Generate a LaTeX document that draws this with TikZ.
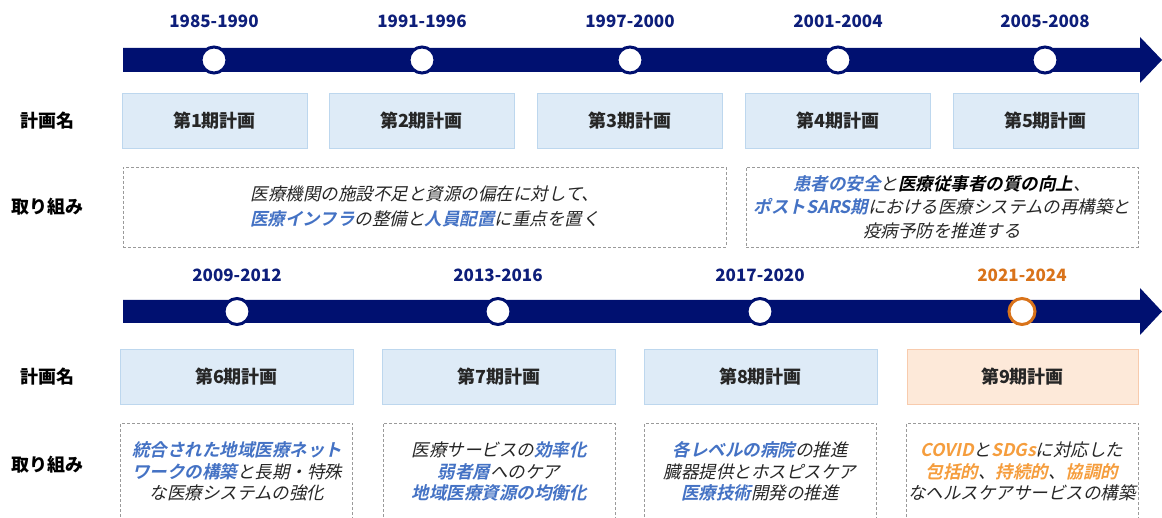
\documentclass[tikz,border=0pt]{standalone}
\usepackage{fontspec}
\setmainfont{Noto Sans CJK JP}[AutoFakeSlant=0.22, BoldItalicFont={Noto Sans CJK JP Bold}, BoldItalicFeatures={FakeSlant=0.22}]
\definecolor{navy}{HTML}{001070}
\definecolor{yearblue}{HTML}{0D1E7A}
\definecolor{planfill}{HTML}{DEEBF7}
\definecolor{planborder}{HTML}{BDD7EE}
\definecolor{orfill}{HTML}{FDE9D9}
\definecolor{orborder}{HTML}{F8CBAD}
\definecolor{orline}{HTML}{D9731A}
\definecolor{hiblue}{HTML}{4472C4}
\definecolor{hiorange}{HTML}{F59D3D}
\definecolor{txt}{HTML}{262626}
\definecolor{dashgray}{HTML}{9A9A9A}
\newcommand\hb[1]{{\bfseries\color{hiblue}#1}}
\newcommand\ho[1]{{\bfseries\color{hiorange}#1}}
\newcommand\hk[1]{{\bfseries\color{black}#1}}
\tikzset{
  year/.style={font=\bfseries\fontsize{17}{20}\selectfont, text=yearblue},
  dot/.style={circle, draw=navy, fill=white, line width=3pt, minimum size=26pt, inner sep=0pt},
  plan/.style={draw=planborder, fill=planfill, line width=0.8pt, minimum height=55pt, inner sep=0pt, text=txt, font=\bfseries\fontsize{18}{20}\selectfont},
  rowlabel/.style={text=black, font=\bfseries\fontsize{18}{20}\selectfont},
  work/.style={draw=dashgray, dash pattern=on 3pt off 2pt, line width=0.8pt, inner sep=0pt},
  worktext/.style={align=center, text=txt, font=\itshape\fontsize{17.5}{22.5}\selectfont},
  timeline/.style={fill=navy, draw=none}
}
\begin{document}
\begin{tikzpicture}[x=1pt,y=-1pt]
\useasboundingbox (0,0) rectangle (1162,518);
\clip (0,0) rectangle (1162,518);
% ---------- row 1 ----------
\fill[timeline] (123,48) -- (1140,48) -- (1140,37) -- (1162,60) -- (1140,83) -- (1140,72) -- (123,72) -- cycle;
\foreach \i/\x/\y in {1/214/1985-1990, 2/422/1991-1996, 3/630/1997-2000, 4/838/2001-2004, 5/1045/2005-2008}{
  \node[dot] (d\i) at (\x,60) {};
  \node[year] (y\i) at (\x,21) {\y};
}
\node[rowlabel] (l1) at (47,121) {計画名};
\node[rowlabel] (l2) at (47,207) {取り組み};
\node[plan, minimum width=185pt] (p1) at (214.5,120.5) {第1期計画};
\node[plan, minimum width=185pt] (p2) at (421.5,120.5) {第2期計画};
\node[plan, minimum width=185pt] (p3) at (630,120.5) {第3期計画};
\node[plan, minimum width=185pt] (p4) at (838,120.5) {第4期計画};
\node[plan, minimum width=185pt] (p5) at (1045.5,120.5) {第5期計画};
\node[work, minimum width=603pt, minimum height=80pt] (wA) at (424.5,207) {};
\node[worktext, font=\itshape\fontsize{17.5}{25}\selectfont] (tA) at (425,206) {医療機関の施設不足と資源の偏在に対して、\\\hb{医療インフラ}の整備と\hb{人員配置}に重点を置く};
\node[work, minimum width=392pt, minimum height=80pt] (wB) at (942,207) {};
\node[worktext, font=\itshape\fontsize{17.5}{23.5}\selectfont] (tB) at (942,207) {\hb{患者の安全}と\hk{医療従事者の質の向上}、\\\hb{ポストSARS期}における医療システムの再構築と\\疫病予防を推進する};
% ---------- row 2 ----------
\fill[timeline] (123,300) -- (1140,300) -- (1140,288) -- (1162,311.5) -- (1140,335) -- (1140,323) -- (123,323) -- cycle;
\foreach \i/\x/\y in {6/237/2009-2012, 7/498/2013-2016, 8/760/2017-2020}{
  \node[dot] (d\i) at (\x,311.5) {};
  \node[year] (y\i) at (\x,275) {\y};
}
\node[dot, draw=orline] (d9) at (1022,311.5) {};
\node[year, text=orline] (y9) at (1022,275) {2021-2024};
\node[rowlabel] (l3) at (47,377) {計画名};
\node[rowlabel] (l4) at (47,465) {取り組み};
\node[plan, minimum width=233pt] (p6) at (236.5,376.5) {第6期計画};
\node[plan, minimum width=233pt] (p7) at (499,376.5) {第7期計画};
\node[plan, minimum width=233pt] (p8) at (760.5,376.5) {第8期計画};
\node[plan, minimum width=231pt, fill=orfill, draw=orborder] (p9) at (1022.5,376.5) {第9期計画};
\foreach \i/\x in {6/236.5, 7/499, 8/760.5, 9/1022.5}{
  \node[work, minimum width=232pt, minimum height=110pt] (w\i) at (\x,478) {};
}
\node[worktext, font=\itshape\fontsize{17.5}{21.5}\selectfont] (t6) at (237,471.5) {\hb{統合された地域医療ネット}\\\hb{ワークの構築}と長期・特殊\\な医療システムの強化};
\node[worktext, font=\itshape\fontsize{17.5}{21.5}\selectfont] (t7) at (499,471.5) {医療サービスの\hb{効率化}\\\hb{弱者層}へのケア\\\hb{地域医療資源の均衡化}};
\node[worktext, font=\itshape\fontsize{17.5}{21.5}\selectfont] (t8) at (760,471.5) {\hb{各レベルの病院}の推進\\臓器提供とホスピスケア\\\hb{医療技術}開発の推進};
\node[worktext, font=\itshape\fontsize{17.5}{21.5}\selectfont] (t9) at (1022,471.5) {\ho{COVID}と\ho{SDGs}に対応した\\\ho{包括的}、\ho{持続的}、\ho{協調的}\\なヘルスケアサービスの構築};
\end{tikzpicture}
\end{document}
